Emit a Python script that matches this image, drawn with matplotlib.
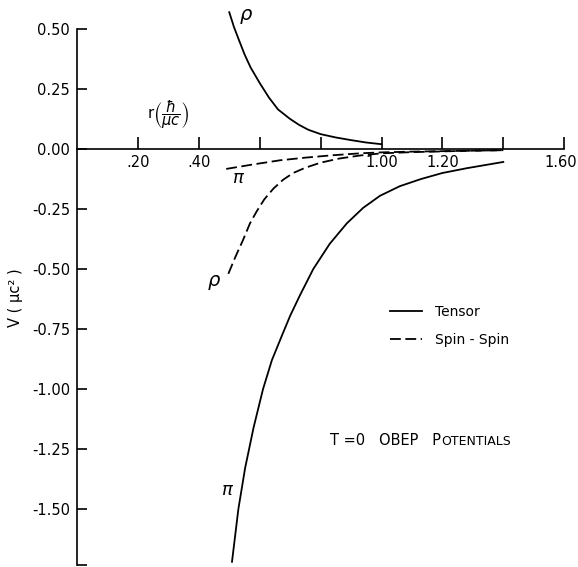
import matplotlib
matplotlib.use("Agg")
import matplotlib.pyplot as plt
from matplotlib.transforms import ScaledTranslation

# ---- data ----
tensor_rho_r = [0.50, 0.515, 0.53, 0.55, 0.57, 0.60, 0.63, 0.66, 0.70, 0.73, 0.76,
                0.80, 0.85, 0.90, 0.95, 1.00]
tensor_rho_v = [0.57, 0.51, 0.46, 0.395, 0.34, 0.275, 0.215, 0.165, 0.125, 0.10,
                0.08, 0.062, 0.048, 0.037, 0.027, 0.02]

tensor_pi_r = [0.509, 0.53, 0.552, 0.58, 0.611, 0.64, 0.677, 0.70, 0.732, 0.776,
               0.83, 0.886, 0.94, 0.995, 1.06, 1.13, 1.20, 1.28, 1.40]
tensor_pi_v = [-1.72, -1.50, -1.33, -1.16, -1.00, -0.88, -0.765, -0.695, -0.61,
               -0.50, -0.395, -0.31, -0.245, -0.195, -0.155, -0.125, -0.10, -0.08,
               -0.054]

spin_pi_r = [0.49, 0.58, 0.667, 0.75, 0.84, 0.93, 1.00, 1.10, 1.20, 1.30, 1.40]
spin_pi_v = [-0.083, -0.064, -0.047, -0.036, -0.026, -0.018, -0.014, -0.011,
             -0.009, -0.007, -0.005]

spin_rho_r = [0.497, 0.52, 0.545, 0.568, 0.59, 0.615, 0.645, 0.677, 0.71, 0.75,
              0.80, 0.86, 0.93, 1.00, 1.10, 1.20, 1.30, 1.40]
spin_rho_v = [-0.52, -0.45, -0.38, -0.31, -0.26, -0.21, -0.165, -0.128, -0.10,
              -0.078, -0.057, -0.04, -0.027, -0.018, -0.013, -0.010, -0.007, -0.005]

x_ticks = [0.20, 0.40, 0.60, 0.80, 1.00, 1.20, 1.40, 1.60]
x_tick_labels = [".20", ".40", "", "", "1.00", "1.20", "", "1.60"]
y_ticks = [0.50, 0.25, 0.00, -0.25, -0.50, -0.75, -1.00, -1.25, -1.50, -1.733]
y_tick_labels = ["0.50", "0.25", "0.00", "-0.25", "-0.50", "-0.75", "-1.00",
                 "-1.25", "-1.50", ""]

# ---- figure ----
W, H = 578, 567
fig = plt.figure(figsize=(W / 100, H / 100), dpi=100)
ax = fig.add_axes([0, 0, 1, 1])
ax.patch.set_alpha(0)

# pixel mapping: x = 77 + r*304.5 ; y = 149 - V*240
sx, x0 = 304.5, 77
sy, y0 = 240.0, 149
ax.set_xlim(-x0 / sx, (W - x0) / sx)
ax.set_ylim((y0 - H) / sy, y0 / sy)

plt.rcParams['font.family'] = ['DejaVu Sans']
fs = 10.5
lw = 1.3
dash = (6, 2.5)

l_t, = ax.plot(tensor_rho_r, tensor_rho_v, color="black", lw=lw)
ax.plot(tensor_pi_r, tensor_pi_v, color="black", lw=lw)
l_s, = ax.plot(spin_pi_r, spin_pi_v, color="black", lw=lw, ls=(0, dash))
ax.plot(spin_rho_r, spin_rho_v, color="black", lw=lw, ls=(0, dash))

# spines
for s in ["top", "right"]:
    ax.spines[s].set_visible(False)
ax.spines["left"].set_position(("data", 0))
ax.spines["bottom"].set_position(("data", 0))
ax.spines["left"].set_bounds(-1.733, 0.5)
ax.spines["bottom"].set_bounds(0, 1.6)
ax.spines["left"].set_linewidth(1.2)
ax.spines["bottom"].set_linewidth(1.2)

ax.set_xticks(x_ticks)
ax.set_xticklabels(x_tick_labels)
ax.set_yticks(y_ticks)
ax.set_yticklabels(y_tick_labels)
ax.tick_params(axis="x", direction="in", length=9, width=1.2, pad=4, labelsize=fs)
ax.tick_params(axis="y", direction="in", length=7, width=1.2, pad=5, labelsize=fs)

# nudge the last x label slightly left so it stays inside the picture
last = ax.xaxis.get_major_ticks()[-1].label1
last.set_transform(last.get_transform() + ScaledTranslation(-3 / 100, 0, fig.dpi_scale_trans))

# axis labels
ax.text((147 - x0) / sx, (y0 - 115) / sy, r"r$\left(\dfrac{\hbar}{\mu c}\right)$",
        ha="left", va="center", fontsize=fs)
ax.text((15 - x0) / sx, (y0 - 298) / sy, "V ( μc² )", rotation=90,
        ha="center", va="center", fontsize=fs)

# curve labels
lab_fs = 14
ax.text(0.555, 0.554, r"$\rho$", fontsize=lab_fs, ha="center", va="center")
ax.text(0.529, -0.121, r"$\pi$", fontsize=lab_fs - 1, ha="center", va="center")
ax.text(0.45, -0.558, r"$\rho$", fontsize=lab_fs, ha="center", va="center")
ax.text(0.496, -1.42, r"$\pi$", fontsize=lab_fs - 1, ha="center", va="center")

# legend
leg = ax.legend([l_t, l_s], ["Tensor", "Spin - Spin"], loc="upper left",
                bbox_to_anchor=(390 / W, 1 - 305 / H), bbox_transform=fig.transFigure,
                frameon=False, fontsize=10, handlelength=2.3, handletextpad=0.95,
                labelspacing=1.0, borderpad=0, borderaxespad=0)

# annotation with small caps
t1 = ax.text((330 - x0) / sx, (y0 - 441) / sy, "T =0   OBEP   P", fontsize=10.5,
             ha="left", va="center")
ax.annotate("OTENTIALS", xy=(1, 0), xycoords=t1, fontsize=9,
            ha="left", va="bottom")

fig.savefig("out.png", dpi=100)
